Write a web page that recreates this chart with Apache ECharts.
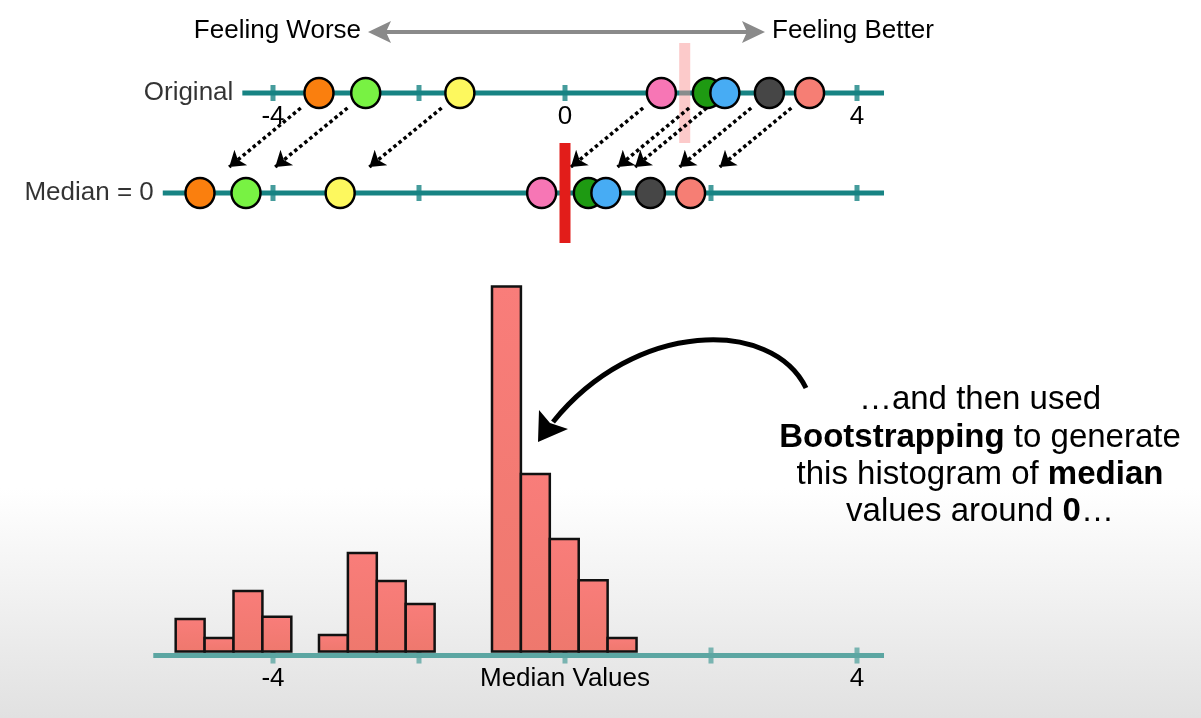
<!DOCTYPE html>
<html>
<head>
<meta charset="utf-8">
<style>
  html, body { margin: 0; padding: 0; background: #ffffff; }
  #chart { width: 1201px; height: 718px; }
</style>
<script src="https://cdn.jsdelivr.net/npm/echarts@6/dist/echarts.min.js"></script>
</head>
<body>
<div id="chart"></div>
<script>
// ---------- data ----------
const pointNames     = ['orange', 'green', 'yellow', 'pink', 'darkgreen', 'blue', 'grey', 'salmon'];
const originalValues = [-3.37, -2.73, -1.44, 1.32, 1.95, 2.19, 2.80, 3.35];
const shiftedValues  = [-5.00, -4.37, -3.08, -0.32, 0.32, 0.56, 1.17, 1.72];
const originalMedian = 1.64;
const shiftedMedian  = 0;

const rowNames     = ['Original', 'Median = 0'];
const rowLineStart = [-4.42, -5.51];
const rowLineEnd   = [4.37, 4.37];

const tickValues        = [-4, -2, 0, 2, 4];
const topLabelValues    = [-4, 0, 4];
const topLabels         = ['-4', '0', '4'];
const bottomLabelValues = [-4, 0, 4];
const bottomLabels      = ['-4', 'Median Values', '4'];
const histAxisRange     = [-5.64, 4.37];

const binStarts = [-5.333, -4.937, -4.541, -4.145,
                   -3.370, -2.974, -2.578, -2.182,
                   -1.000, -0.604, -0.208, 0.188, 0.584];
const binCounts = [8.9, 3.7, 16.6, 9.5,
                   4.5, 27.0, 19.3, 13.0,
                   100, 48.6, 30.8, 19.5, 3.7];
const binWidth = 0.396;

// ---------- styles ----------
const pointColors = ['#fa7f0e', '#78f243', '#fdf85e', '#f776b5', '#1e9a12', '#47acf4', '#464646', '#f67e74'];
const TEAL = '#178383';
const TEAL_LIGHT = '#5ca6a2';
const FONT = "'Liberation Sans', Arial, Helvetica, sans-serif";
const INK = '#000000';
const AXIS_GAP_Y = -1.1;   // bottom axis line sits a few px under the bars

function labelFor(values, labels) {
  return v => {
    const k = values.findIndex(x => Math.abs(x - v) < 1e-9);
    return k >= 0 ? labels[k] : '';
  };
}

const chart = echarts.init(document.getElementById('chart'), null, { renderer: 'canvas' });

const rowLineSeries = rowNames.map((n, i) => ({
  type: 'line', xAxisIndex: 0, yAxisIndex: 0, z: 2, clip: false, silent: true,
  symbol: 'none', lineStyle: { color: TEAL, width: 5 },
  data: [[rowLineStart[i], -i], [rowLineEnd[i], -i]]
}));

const hiddenX = { type: 'value', min: -6, max: 6, interval: 2,
  axisLine: { show: false, onZero: false }, axisTick: { show: false }, splitLine: { show: false } };

const option = {
  animation: false,
  backgroundColor: 'transparent',
  textStyle: { fontFamily: FONT },
  grid: [
    { left: 127, width: 876, top: 43, height: 200, outerBoundsMode: 'none', containLabel: false },
    { left: 127, width: 876, top: 286.5, height: 365, outerBoundsMode: 'none', containLabel: false },
    { left: 127, width: 876, top: 43, height: 50, outerBoundsMode: 'none', containLabel: false }
  ],
  xAxis: [
    Object.assign({ gridIndex: 0, axisLabel: { show: false } }, hiddenX),
    Object.assign({ gridIndex: 1,
      axisLabel: { margin: 14, fontSize: 26, color: INK, fontFamily: FONT,
                   formatter: labelFor(bottomLabelValues, bottomLabels) } }, hiddenX),
    Object.assign({ gridIndex: 2,
      axisLabel: { margin: 11, fontSize: 26, color: INK, fontFamily: FONT,
                   formatter: labelFor(topLabelValues, topLabels) } }, hiddenX)
  ],
  yAxis: [
    { gridIndex: 0, type: 'value', min: -1.5, max: 0.5, show: false },
    { gridIndex: 1, type: 'value', min: 0, max: 100, show: false },
    { gridIndex: 2, type: 'value', min: 0, max: 1, show: false }
  ],
  series: [
    ...rowLineSeries,
    {
      name: 'row ticks', type: 'scatter', xAxisIndex: 0, yAxisIndex: 0, z: 3, clip: false, silent: true,
      symbol: 'rect', symbolSize: [5, 16], itemStyle: { color: TEAL },
      data: rowNames.flatMap((n, i) => tickValues.map(t => [t, -i]))
    },
    {
      name: 'row labels', type: 'scatter', xAxisIndex: 0, yAxisIndex: 0, z: 3, clip: false, silent: true,
      symbolSize: 0,
      data: rowNames.map((n, i) => ({ value: [rowLineStart[i], -i], name: n })),
      label: { show: true, position: 'left', distance: 9, formatter: p => p.name,
               fontSize: 26, color: INK, fontFamily: FONT }
    },
    {
      name: 'original median', type: 'line', xAxisIndex: 0, yAxisIndex: 0, z: 4, clip: false, silent: true,
      symbol: 'none', lineStyle: { color: 'rgba(250,150,150,0.5)', width: 11, cap: 'butt' },
      data: [[originalMedian, 0.5], [originalMedian, -0.5]]
    },
    {
      name: 'shift arrows', type: 'lines', coordinateSystem: 'cartesian2d', xAxisIndex: 0, yAxisIndex: 0,
      z: 5, silent: true, symbol: ['none', 'arrow'], symbolSize: 15,
      lineStyle: { color: INK, width: 3.5, type: [3.5, 3], opacity: 1, curveness: 0 },
      data: originalValues.map((v, i) => ({ coords: [[v - 0.25, -0.15], [shiftedValues[i] + 0.40, -0.74]] }))
    },
    {
      name: 'Original', type: 'scatter', xAxisIndex: 0, yAxisIndex: 0, z: 6, clip: false, silent: true,
      symbol: 'circle', symbolSize: [29, 30],
      itemStyle: { borderColor: INK, borderWidth: 2.5, opacity: 1 },
      data: originalValues.map((v, i) => ({ value: [v, 0], name: pointNames[i], itemStyle: { color: pointColors[i] } }))
    },
    {
      name: 'Median = 0', type: 'scatter', xAxisIndex: 0, yAxisIndex: 0, z: 6, clip: false, silent: true,
      symbol: 'circle', symbolSize: [29, 30],
      itemStyle: { borderColor: INK, borderWidth: 2.5, opacity: 1 },
      data: shiftedValues.map((v, i) => ({ value: [v, -1], name: pointNames[i], itemStyle: { color: pointColors[i] } }))
    },
    {
      name: 'shifted median', type: 'line', xAxisIndex: 0, yAxisIndex: 0, z: 7, clip: false, silent: true,
      symbol: 'none', lineStyle: { color: '#e21d1a', width: 11, cap: 'butt' },
      data: [[shiftedMedian, -0.5], [shiftedMedian, -1.5]]
    },
    {
      name: 'hist axis', type: 'line', xAxisIndex: 1, yAxisIndex: 1, z: 2, clip: false, silent: true,
      symbol: 'none', lineStyle: { color: TEAL_LIGHT, width: 5 },
      data: [[histAxisRange[0], AXIS_GAP_Y], [histAxisRange[1], AXIS_GAP_Y]]
    },
    {
      name: 'hist ticks', type: 'scatter', xAxisIndex: 1, yAxisIndex: 1, z: 3, clip: false, silent: true,
      symbol: 'rect', symbolSize: [5, 16], itemStyle: { color: TEAL_LIGHT },
      data: tickValues.map(t => [t, AXIS_GAP_Y])
    },
    {
      name: 'histogram', type: 'custom', xAxisIndex: 1, yAxisIndex: 1, z: 4, clip: false, silent: true,
      data: binStarts.map((s, i) => [s, s + binWidth, binCounts[i]]),
      renderItem: (params, api) => {
        const p0 = api.coord([api.value(0), api.value(2)]);
        const p1 = api.coord([api.value(1), 0]);
        return {
          type: 'rect',
          shape: { x: p0[0], y: p0[1], width: p1[0] - p0[0], height: p1[1] - p0[1] },
          style: {
            fill: { type: 'linear', x: 0, y: 0, x2: 0, y2: 1,
                    colorStops: [{ offset: 0, color: '#f97d7a' }, { offset: 1, color: '#ee786d' }] },
            stroke: '#111', lineWidth: 2.5
          }
        };
      }
    }
  ],
  graphic: [
    {
      type: 'rect', z: -10, silent: true,
      shape: { x: 0, y: 0, width: 1201, height: 718 },
      style: { fill: { type: 'linear', x: 0, y: 0, x2: 0, y2: 1,
        colorStops: [{ offset: 0, color: '#ffffff' }, { offset: 0.68, color: '#ffffff' },
                     { offset: 0.82, color: '#f2f2f2' }, { offset: 1, color: '#e1e1e1' }] } }
    },
    {
      type: 'text', silent: true, x: 361, y: 31,
      style: { text: 'Feeling Worse', fontSize: 26, fontFamily: FONT, fill: INK,
               textAlign: 'right', textVerticalAlign: 'middle' }
    },
    {
      type: 'text', silent: true, x: 772, y: 31,
      style: { text: 'Feeling Better', fontSize: 26, fontFamily: FONT, fill: INK,
               textAlign: 'left', textVerticalAlign: 'middle' }
    },
    {
      type: 'line', silent: true,
      shape: { x1: 384, y1: 32, x2: 750, y2: 32 },
      style: { stroke: '#8a8a8a', lineWidth: 4 }
    },
    {
      type: 'polygon', silent: true,
      shape: { points: [[368, 32], [391, 21], [386, 32], [391, 43]] },
      style: { fill: '#8a8a8a' }
    },
    {
      type: 'polygon', silent: true,
      shape: { points: [[765, 32], [742, 21], [747, 32], [742, 43]] },
      style: { fill: '#8a8a8a' }
    },
    {
      type: 'bezierCurve', silent: true,
      shape: { x1: 806, y1: 388, cpx1: 772, cpy1: 318, cpx2: 635, cpy2: 320, x2: 553, y2: 422 },
      style: { stroke: '#000', lineWidth: 5, fill: null }
    },
    {
      type: 'polygon', silent: true,
      shape: { points: [[538, 442], [539, 410], [550, 423], [568, 429]] },
      style: { fill: '#000' }
    },
    {
      type: 'text', silent: true, x: 980, y: 400,
      style: { text: '…and then used', fontSize: 33, fontFamily: FONT, fill: INK,
               textAlign: 'center', textVerticalAlign: 'middle' }
    },
    {
      type: 'text', silent: true, x: 980, y: 438,
      style: { text: '{b|Bootstrapping} to generate', fontSize: 33, fontFamily: FONT, fill: INK,
               textAlign: 'center', textVerticalAlign: 'middle',
               rich: { b: { fontSize: 33, fontFamily: FONT, fontWeight: 'bold', fill: INK } } }
    },
    {
      type: 'text', silent: true, x: 980, y: 475,
      style: { text: 'this histogram of {b|median}', fontSize: 33, fontFamily: FONT, fill: INK,
               textAlign: 'center', textVerticalAlign: 'middle',
               rich: { b: { fontSize: 33, fontFamily: FONT, fontWeight: 'bold', fill: INK } } }
    },
    {
      type: 'text', silent: true, x: 980, y: 512,
      style: { text: 'values around {b|0}…', fontSize: 33, fontFamily: FONT, fill: INK,
               textAlign: 'center', textVerticalAlign: 'middle',
               rich: { b: { fontSize: 33, fontFamily: FONT, fontWeight: 'bold', fill: INK } } }
    }
  ]
};

chart.setOption(option);
</script>
</body>
</html>
